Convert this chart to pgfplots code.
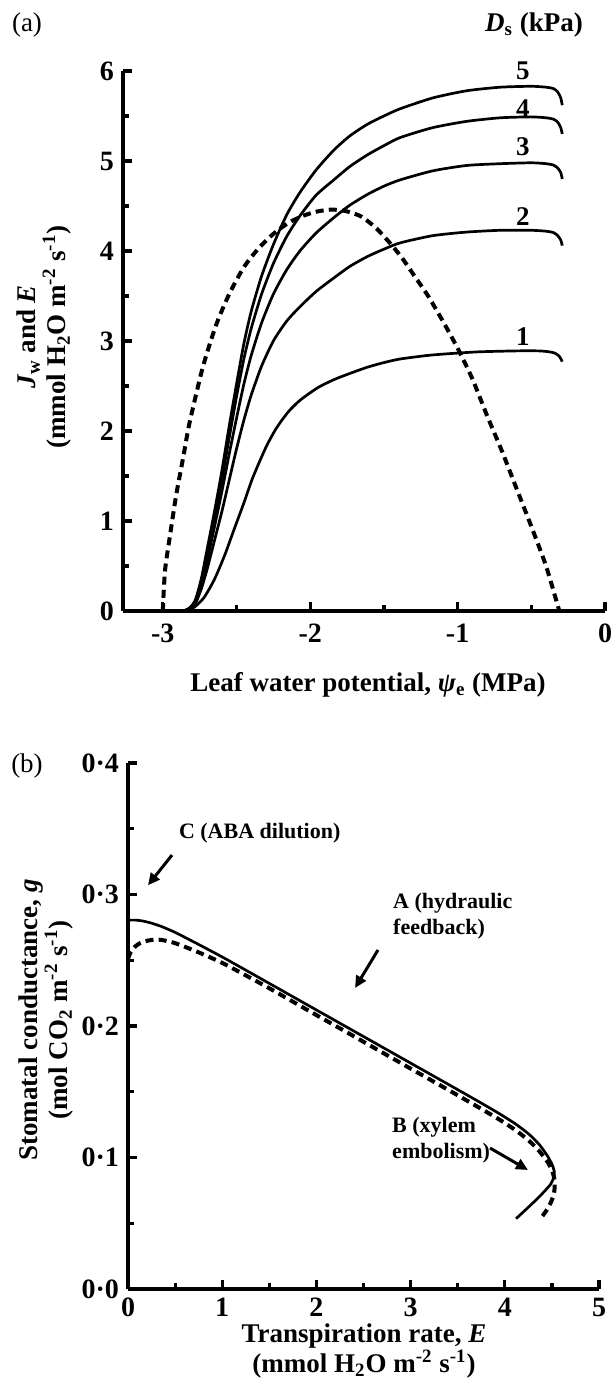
\documentclass[border=0pt]{standalone}
\usepackage{fontspec}
\setmainfont{Liberation Serif}
\usepackage{pgfplots}
\pgfplotsset{compat=1.18}
\usetikzlibrary{arrows.meta}

\pgfplotsset{
  panel/.style={
    scale only axis,
    axis lines=left,
    axis line style={line width=1.9pt,-},
    tick align=inside,
    major tick length=4.5pt,
    minor tick length=2.8pt,
    tick style={line width=1.6pt,black},
    tick label style={font=\fontsize{14}{14}\selectfont\bfseries},
    clip=false,
  },
  solidc/.style={line width=1.35pt,black,smooth,tension=0.4},
  dashc/.style={line width=2pt,black,dash pattern=on 4pt off 2.6pt,smooth,tension=0.4},
}
\newcommand{\lab}{\fontsize{13.5}{15}\selectfont\bfseries}
\newcommand{\ann}{\fontsize{11}{13}\selectfont\bfseries}

\begin{document}
\begin{tikzpicture}[x=1pt,y=1pt]
\path[use as bounding box] (0,0) rectangle (307.5,693.5);

% ---------------- panel (a) ----------------
\begin{axis}[panel, at={(61.5pt,388pt)}, anchor=south west,
  width=241pt, height=270pt,
  xmin=-3.27, xmax=0, ymin=0, ymax=6,
  xtick={-3,-2,-1,0}, xticklabels={-3,-2,-1,0},
  minor xtick={-2.5,-1.5,-0.5},
  ytick={0,1,2,3,4,5,6}, yticklabels={0,1,2,3,4,5,6},
  minor ytick={0.5,1.5,2.5,3.5,4.5,5.5},
  xticklabel style={yshift=-3pt},
  yticklabel style={xshift=-1pt},
]
% D_s = 1
\addplot[solidc] coordinates {
(-2.86,0) (-2.82,0.01) (-2.78,0.05) (-2.72,0.15) (-2.65,0.35) (-2.58,0.62)
(-2.52,0.89) (-2.45,1.20) (-2.39,1.48) (-2.30,1.82) (-2.23,2.03) (-2.15,2.21)
(-2.07,2.34) (-1.95,2.48) (-1.84,2.57) (-1.73,2.64) (-1.61,2.71) (-1.50,2.76)
(-1.39,2.80) (-1.20,2.84) (-1.05,2.86) (-0.85,2.88) (-0.60,2.89) (-0.45,2.89)
(-0.38,2.88) (-0.34,2.865) (-0.31,2.83) (-0.29,2.77)};
% D_s = 2
\addplot[solidc] coordinates {
(-2.86,0) (-2.82,0.02) (-2.78,0.08) (-2.74,0.24) (-2.70,0.46) (-2.65,0.78)
(-2.60,1.10) (-2.55,1.45) (-2.50,1.80) (-2.45,2.12) (-2.40,2.40) (-2.33,2.72)
(-2.25,3.00) (-2.16,3.22) (-2.07,3.38) (-1.96,3.55) (-1.84,3.70) (-1.73,3.83)
(-1.61,3.94) (-1.50,4.02) (-1.39,4.09) (-1.17,4.17) (-0.94,4.21) (-0.71,4.23)
(-0.50,4.23) (-0.40,4.22) (-0.35,4.205) (-0.32,4.17) (-0.30,4.12) (-0.29,4.06)};
% D_s = 3
\addplot[solidc] coordinates {
(-2.86,0) (-2.82,0.03) (-2.78,0.10) (-2.74,0.29) (-2.70,0.56) (-2.65,0.93)
(-2.60,1.32) (-2.55,1.74) (-2.50,2.14) (-2.45,2.52) (-2.40,2.84) (-2.33,3.20)
(-2.25,3.52) (-2.16,3.79) (-2.07,4.00) (-1.96,4.20) (-1.84,4.37) (-1.73,4.51)
(-1.61,4.63) (-1.50,4.72) (-1.39,4.79) (-1.17,4.89) (-0.94,4.95) (-0.71,4.97)
(-0.50,4.98) (-0.40,4.97) (-0.35,4.955) (-0.32,4.92) (-0.30,4.87) (-0.29,4.80)};
% D_s = 4
\addplot[solidc] coordinates {
(-2.86,0) (-2.82,0.03) (-2.78,0.11) (-2.74,0.32) (-2.70,0.62) (-2.65,1.02)
(-2.60,1.45) (-2.55,1.92) (-2.50,2.38) (-2.45,2.80) (-2.40,3.14) (-2.33,3.52)
(-2.25,3.86) (-2.16,4.16) (-2.07,4.39) (-1.96,4.62) (-1.84,4.79) (-1.73,4.94)
(-1.61,5.07) (-1.50,5.17) (-1.39,5.26) (-1.17,5.37) (-0.94,5.44) (-0.71,5.48)
(-0.50,5.49) (-0.40,5.48) (-0.35,5.465) (-0.32,5.43) (-0.30,5.37) (-0.29,5.30)};
% D_s = 5
\addplot[solidc] coordinates {
(-2.86,0) (-2.82,0.03) (-2.78,0.12) (-2.74,0.35) (-2.70,0.68) (-2.65,1.10)
(-2.60,1.55) (-2.55,2.05) (-2.50,2.52) (-2.45,2.97) (-2.40,3.33) (-2.33,3.72)
(-2.25,4.07) (-2.16,4.40) (-2.07,4.65) (-1.96,4.90) (-1.84,5.12) (-1.73,5.28)
(-1.61,5.41) (-1.50,5.50) (-1.39,5.58) (-1.17,5.70) (-0.94,5.78) (-0.71,5.82)
(-0.50,5.83) (-0.40,5.82) (-0.35,5.805) (-0.32,5.765) (-0.30,5.70) (-0.29,5.62)};
% transpiration E (dashed)
\addplot[dashc] coordinates {
(-3.00,0) (-2.985,0.45) (-2.95,0.85) (-2.91,1.28) (-2.86,1.72) (-2.82,2.08)
(-2.73,2.70) (-2.64,3.17) (-2.55,3.52) (-2.45,3.82) (-2.35,4.03) (-2.25,4.19)
(-2.15,4.31) (-2.05,4.39) (-1.95,4.44) (-1.85,4.46) (-1.75,4.44) (-1.65,4.38)
(-1.55,4.25) (-1.46,4.09) (-1.38,3.93) (-1.30,3.74) (-1.20,3.50) (-1.10,3.22)
(-1.00,2.92) (-0.90,2.58) (-0.80,2.17) (-0.70,1.78) (-0.60,1.36) (-0.50,0.94)
(-0.40,0.50) (-0.31,0.0)};
\node[font=\lab] at (axis cs:-0.557,6.00) {5};
\node[font=\lab] at (axis cs:-0.557,5.58) {4};
\node[font=\lab] at (axis cs:-0.557,5.16) {3};
\node[font=\lab] at (axis cs:-0.557,4.38) {2};
\node[font=\lab] at (axis cs:-0.557,3.05) {1};
\end{axis}

\node[font=\fontsize{13.5}{15}\selectfont] at (13.5,681) {(a)};
\node[font=\lab] at (267,681) {\textit{D}\textsubscript{s} (kPa)};
\node[font=\lab] at (184,351) {Leaf water potential, \textit{ψ}\textsubscript{e} (MPa)};
\node[font=\lab, rotate=90, align=center] at (22,525) {\textit{J}\textsubscript{w} and \textit{E}\\(mmol H\textsubscript{2}O m\textsuperscript{-2} s\textsuperscript{-1})};

% ---------------- panel (b) ----------------
\begin{axis}[panel, at={(64pt,49pt)}, anchor=south west,
  width=235.5pt, height=263pt,
  xmin=0, xmax=5, ymin=0, ymax=0.4,
  xtick={0,1,2,3,4,5}, xticklabels={0,1,2,3,4,5},
  minor xtick={0.5,1.5,2.5,3.5,4.5},
  ytick={0,0.1,0.2,0.3,0.4}, yticklabels={0·0,0·1,0·2,0·3,0·4},
  minor ytick={0.05,0.15,0.25,0.35},
  xticklabel style={yshift=-1pt},
  yticklabel style={xshift=-1pt},
]
\addplot[solidc] coordinates {
(0,0.2805) (0.08,0.2805) (0.16,0.2798) (0.25,0.2782) (0.35,0.2758) (0.5,0.2712)
(0.75,0.2620) (1.0,0.2525) (1.25,0.2425) (1.5,0.2324) (1.75,0.2223) (2.0,0.2122)
(2.25,0.2021) (2.5,0.1920) (2.75,0.1819) (3.0,0.1718) (3.25,0.1617) (3.5,0.1516)
(3.75,0.1414) (3.95,0.1330) (4.12,0.1252) (4.26,0.1175) (4.37,0.1095) (4.45,0.1015)
(4.50,0.0950) (4.525,0.0895) (4.52,0.0850) (4.49,0.0800) (4.43,0.0750) (4.35,0.0690)
(4.24,0.0615) (4.12,0.0535)};
\addplot[dashc] coordinates {
(0,0.251) (0.03,0.2565) (0.08,0.2607) (0.15,0.2638) (0.25,0.2654) (0.35,0.2655)
(0.5,0.2630) (0.75,0.2560) (1.0,0.2480) (1.25,0.2385) (1.5,0.2287) (1.75,0.2185)
(2.0,0.2083) (2.25,0.1982) (2.5,0.1880) (2.75,0.1778) (3.0,0.1676) (3.25,0.1575)
(3.5,0.1473) (3.75,0.1370) (3.95,0.1285) (4.12,0.1205) (4.26,0.1125) (4.37,0.1045)
(4.45,0.0970) (4.50,0.0905) (4.525,0.0840) (4.53,0.0780) (4.52,0.0720) (4.49,0.0660)
(4.45,0.0605) (4.40,0.0555)};
\node[font=\ann, anchor=west] at (axis cs:0.467,0.3468) {C (ABA dilution)};
\draw[line width=1.5pt, -{Triangle[length=6pt,width=5.5pt]}] (axis cs:0.467,0.330) -- (axis cs:0.212,0.307);
\node[font=\ann, anchor=west, align=left] at (axis cs:2.74,0.2837) {A (hydraulic\\feedback)};
\draw[line width=1.5pt, -{Triangle[length=6pt,width=5.5pt]}] (axis cs:2.654,0.2578) -- (axis cs:2.41,0.2289);
\node[font=\ann, anchor=west, align=left] at (axis cs:2.73,0.1133) {B (xylem\\embolism)};
\draw[line width=1.5pt, -{Triangle[length=6pt,width=5.5pt]}] (axis cs:3.843,0.1072) -- (axis cs:4.246,0.0905);
\end{axis}

\node[font=\fontsize{13.5}{15}\selectfont] at (13.5,310.5) {(b)};
\node[font=\lab, align=center] at (182,18) {Transpiration rate, \textit{E}\\(mmol H\textsubscript{2}O m\textsuperscript{-2} s\textsuperscript{-1})};
\node[font=\lab, rotate=90, align=center] at (23,183.5) {Stomatal conductance, \textit{g}\\(mol CO\textsubscript{2} m\textsuperscript{-2} s\textsuperscript{-1})};
\end{tikzpicture}
\end{document}
